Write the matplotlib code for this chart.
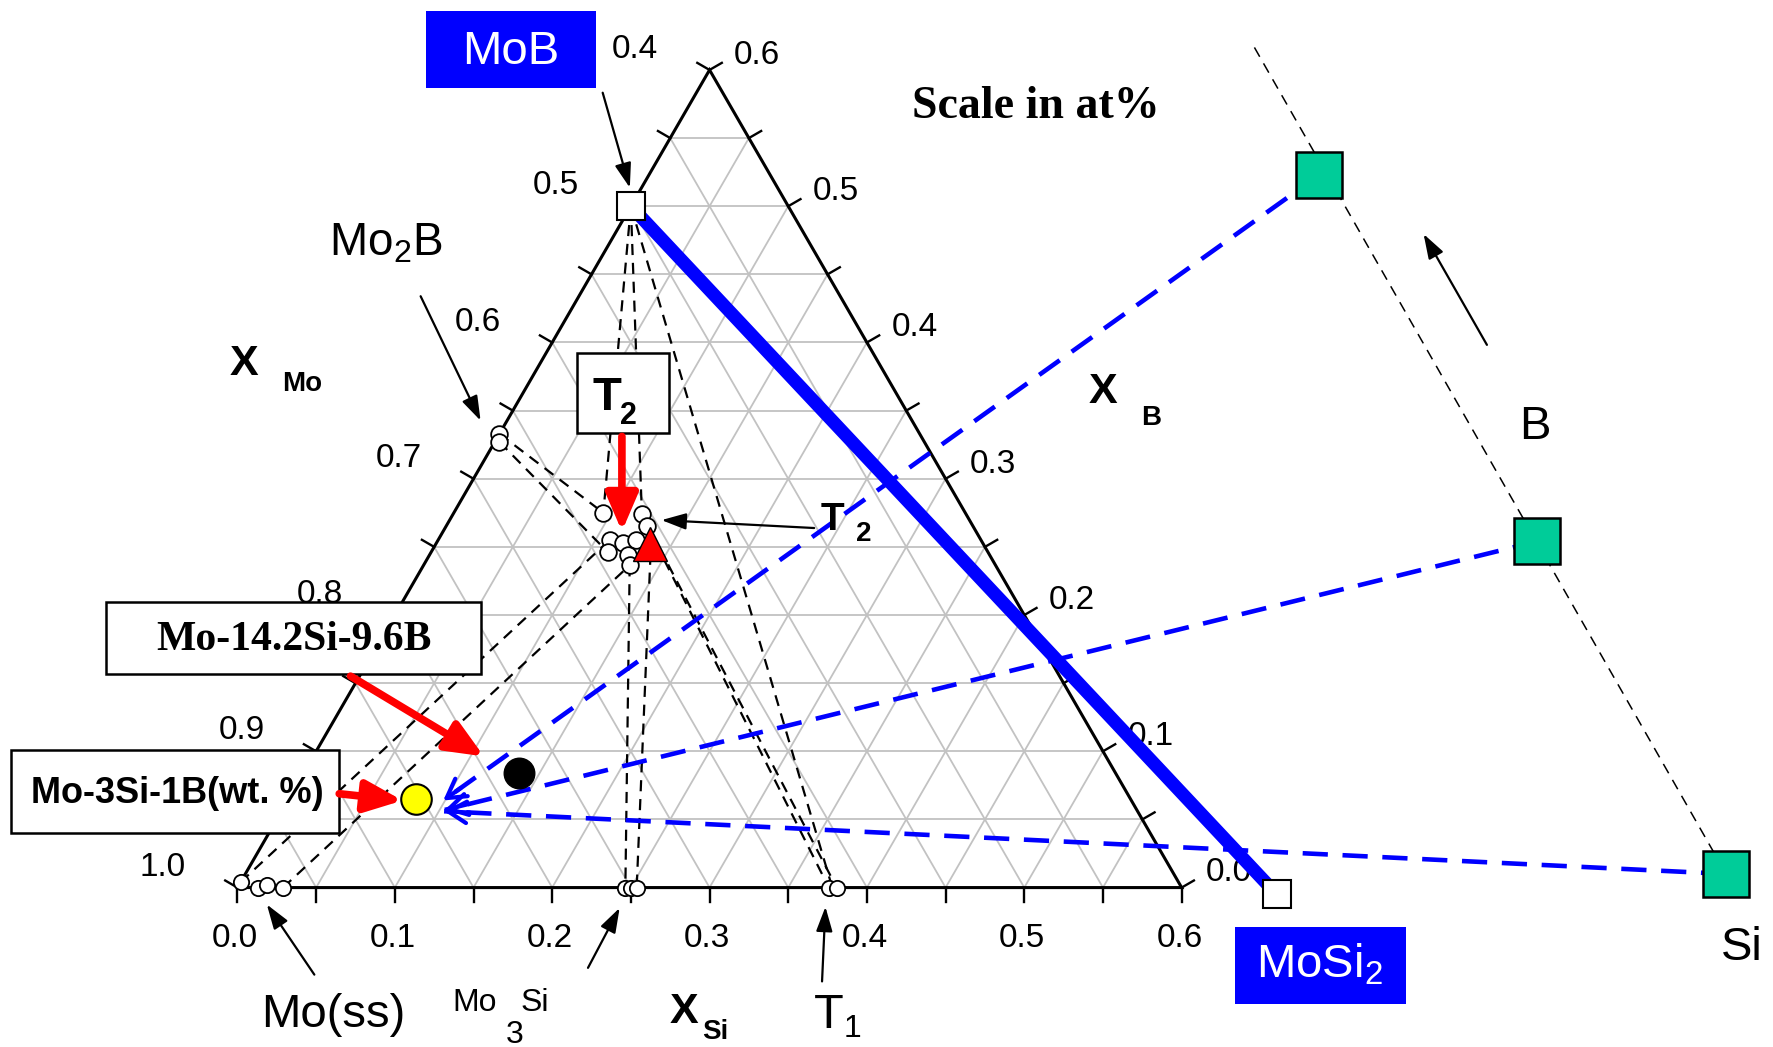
import numpy as np
import matplotlib
matplotlib.use('Agg')
import matplotlib.pyplot as plt
from matplotlib.patches import Rectangle

plt.rcParams['font.family'] = ['Liberation Sans', 'DejaVu Sans']
plt.rcParams['mathtext.fontset'] = 'custom'
plt.rcParams['mathtext.rm'] = 'Liberation Sans'
plt.rcParams['mathtext.bf'] = 'Liberation Sans:bold'
plt.rcParams['mathtext.it'] = 'Liberation Sans:italic'

# ---------------- data (mole fractions X_Si, X_B) ----------------
axis_ticks = [0.0, 0.1, 0.2, 0.3, 0.4, 0.5, 0.6]
si_tick_labels = ['0.0', '0.1', '0.2', '0.3', '0.4', '0.5', '0.6']
mo_tick_labels = ['1.0', '0.9', '0.8', '0.7', '0.6', '0.5', '0.4']
b_tick_labels = ['0.0', '0.1', '0.2', '0.3', '0.4', '0.5', '0.6']

mob_si, mob_b = [0.0], [0.5]
mosi2_si, mosi2_b = [0.663], [-0.005]

mo2b_si = [0.0, 0.003]
mo2b_b = [0.333, 0.327]
t2_si = [0.095, 0.120, 0.109, 0.1185, 0.126, 0.1125, 0.126, 0.131, 0.128]
t2_b = [0.275, 0.274, 0.255, 0.253, 0.255, 0.246, 0.244, 0.2365, 0.265]
moss_si = [0.0, 0.013, 0.018, 0.029]
moss_b = [0.004, 0.0, 0.002, 0.0]
mo3si_si = [0.2465, 0.250, 0.2537]
mo3si_b = [0.0, 0.0, 0.0]
t1_si = [0.3758, 0.3808]
t1_b = [0.0, 0.0]
t2_nominal_si, t2_nominal_b = [0.136], [0.252]

alloy_wt_si, alloy_wt_b = [0.081], [0.065]       # Mo-3Si-1B (wt.%)
alloy_at_si, alloy_at_b = [0.137], [0.084]       # Mo-14.2Si-9.6B

# tie lines: (Xsi1, Xb1) -> (Xsi2, Xb2)
tie_si1 = [0.0, 0.0, 0.0, 0.0, 0.003, 0.0, 0.029, 0.131, 0.140, 0.128, 0.120]
tie_b1 = [0.5, 0.5, 0.5, 0.333, 0.327, 0.004, 0.0, 0.2365, 0.245, 0.265, 0.274]
tie_si2 = [0.095, 0.120, 0.378, 0.095, 0.1125, 0.109, 0.131, 0.2465, 0.2537, 0.3758, 0.3808]
tie_b2 = [0.275, 0.274, 0.0, 0.275, 0.246, 0.255, 0.2365, 0.0, 0.0, 0.0, 0.0]

# composition scale (X_Mo ~ 0.05 line) with three marked points
scale_line_si = [0.338, 0.941]
scale_line_b = [0.6165, 0.010]
scale_pts_si = [0.426, 0.699, 0.941]
scale_pts_b = [0.523, 0.254, 0.010]
# arrow tips of the composition paths
path_tip_si = [0.0988, 0.1033, 0.1033]
path_tip_b = [0.0639, 0.0570, 0.0560]

SQ3 = np.sqrt(3) / 2


def tern(xsi, xb):
    xsi = np.asarray(xsi, float)
    xb = np.asarray(xb, float)
    return xsi + xb / 2, xb * SQ3


# ---------------- figure ----------------
fig = plt.figure(figsize=(17.73, 10.47), dpi=100)
ax = fig.add_axes([0, 0, 1, 1])
S = 1391.7
ax.set_xlim(-210 / S, (1568 - 210) / S)
ax.set_ylim(-(926 - 785) / S, 785 / S)
ax.axis('off')


def F(px, py):
    return (px / 1568, 1 - py / 926)


# grid
grid_kw = dict(color='#c2c2c2', lw=1.3, zorder=1)
for v in np.arange(1, 12) * 0.05:
    ax.plot(*tern([0, 0.6 - v], [v, v]), **grid_kw)
    ax.plot(*tern([v, v], [0, 0.6 - v]), **grid_kw)
    ax.plot(*tern([v, 0], [0, v]), **grid_kw)

# triangle frame
ax.plot(*tern([0, 0.6, 0, 0], [0, 0, 0.6, 0]), color='black', lw=2.2, zorder=2,
        solid_joinstyle='miter')

# ticks
L = 0.009
for t in np.arange(13) * 0.05:
    x, y = tern(t, 0)
    ax.plot([x, x], [y, y - L], color='black', lw=1.7, zorder=2)
    x, y = tern(0, t)
    ax.plot([x, x - L * SQ3], [y, y + L * 0.5], color='black', lw=1.7, zorder=2)
    x, y = tern(0.6 - t, t)
    ax.plot([x, x + L * SQ3], [y, y + L * 0.5], color='black', lw=1.7, zorder=2)

# tick labels
lab_kw = dict(fontsize=24, ha='center', va='center', zorder=2)
for t, lab in zip(axis_ticks, si_tick_labels):
    x, y = tern(t, 0)
    ax.text(x - 2 / S, y - 45 / S, lab, **lab_kw)
for t, lab in zip(axis_ticks, mo_tick_labels):
    x, y = tern(0, t)
    ax.text(x - 66 / S, y + 18 / S, lab, **lab_kw)
for t, lab in zip(axis_ticks, b_tick_labels):
    x, y = tern(0.6 - t, t)
    ax.text(x + 42 / S, y + 13 / S, lab, **lab_kw)

# tie lines
for a, b, c, d in zip(tie_si1, tie_b1, tie_si2, tie_b2):
    ax.plot(*tern([a, c], [b, d]), color='black', lw=1.6, ls=(0, (5, 3.5)), zorder=3)

# composition scale line
ax.plot(*tern(scale_line_si, scale_line_b), color='black', lw=1.1,
        ls=(0, (7, 5)), zorder=3)

# blue dashed paths with arrowheads
for s, b, ts, tb in zip(scale_pts_si, scale_pts_b, path_tip_si, path_tip_b):
    x0, y0 = tern(s, b)
    x1, y1 = tern(ts, tb)
    ax.plot([x0, x1], [y0, y1], color='#0000ff', lw=3.3, ls=(0, (5.5, 3.2)), zorder=3)
    xb_ = x1 + (x0 - x1) * 0.02
    yb_ = y1 + (y0 - y1) * 0.02
    ax.annotate('', xy=(x1, y1), xytext=(xb_, yb_),
                arrowprops=dict(arrowstyle='->,head_length=0.6,head_width=0.35',
                                color='#0000ff', lw=3, shrinkA=0, shrinkB=0,
                                mutation_scale=22), zorder=4)

# thick MoB - MoSi2 line
ax.plot(*tern(mob_si + mosi2_si, mob_b + mosi2_b), color='#0000ff', lw=9.5,
        solid_capstyle='butt', zorder=4)

# markers
circ = dict(ls='none', marker='o', mfc='white', mec='black', mew=1.3, zorder=5)
ax.plot(*tern(mo2b_si, mo2b_b), ms=12, **circ)
ax.plot(*tern(t2_si, t2_b), ms=12, **circ)
ax.plot(*tern(moss_si, moss_b), ms=11, **circ)
ax.plot(*tern(mo3si_si, mo3si_b), ms=11, **circ)
ax.plot(*tern(t1_si, t1_b), ms=11, **circ)
ax.plot(*tern(t2_nominal_si, t2_nominal_b), ls='none', marker='^', ms=24,
        mfc='#ff0000', mec='black', mew=1.0, zorder=6)
ax.plot(*tern(mob_si, mob_b), ls='none', marker='s', ms=20, mfc='white',
        mec='black', mew=1.5, zorder=6)
ax.plot(*tern(mosi2_si, mosi2_b), ls='none', marker='s', ms=20, mfc='white',
        mec='black', mew=1.5, zorder=6)
ax.plot(*tern(scale_pts_si, scale_pts_b), ls='none', marker='s', ms=33,
        mfc='#00cc99', mec='black', mew=1.8, zorder=6)
ax.plot(*tern(alloy_wt_si, alloy_wt_b), ls='none', marker='o', ms=22,
        mfc='#ffff00', mec='black', mew=1.5, zorder=6)
ax.plot(*tern(alloy_at_si, alloy_at_b), ls='none', marker='o', ms=22,
        mfc='black', mec='black', zorder=6)


# ---------------- labels, boxes, arrows ----------------
def box(x0, y0, x1, y1, fc, ec, lw=1.5):
    (fx, fy) = F(x0, y1)
    ax.add_patch(Rectangle((fx, fy), (x1 - x0) / 1568, (y1 - y0) / 926,
                           transform=ax.transAxes, fc=fc, ec=ec, lw=lw, zorder=7))


def txt(px, py, s, **kw):
    kw.setdefault('ha', 'center')
    kw.setdefault('va', 'center')
    kw.setdefault('zorder', 8)
    ax.text(*F(px, py), s, transform=ax.transAxes, **kw)


def arrow(tail, tip, color='black', lw=1.6, style='-|>,head_length=0.6,head_width=0.2', ms=25):
    ax.annotate('', xy=F(*tip), xycoords='axes fraction', xytext=F(*tail),
                textcoords='axes fraction',
                arrowprops=dict(arrowstyle=style, color=color, lw=lw, shrinkA=0,
                                shrinkB=0, mutation_scale=ms), zorder=8)


# MoB / MoSi2 blue boxes
box(377, 10, 527, 78, '#0000ff', '#0000ff', 0)
txt(452, 46, 'MoB', color='white', fontsize=34)
box(1092, 820, 1243, 888, '#0000ff', '#0000ff', 0)
txt(1167, 853, r'MoSi$_2$', color='white', fontsize=34)

# T2 box
box(510, 312, 592, 383, 'white', 'black', 1.8)
txt(537, 352, 'T', fontsize=34, fontweight='bold')
txt(556, 368, '2', fontsize=22, fontweight='bold')

# alloy boxes
box(94, 532, 425, 596, 'white', 'black', 1.8)
txt(260, 566, 'Mo-14.2Si-9.6B', fontsize=30, fontweight='bold',
    family=['Liberation Serif', 'DejaVu Serif'])
box(10, 663, 300, 737, 'white', 'black', 1.8)
txt(157, 702, 'Mo-3Si-1B(wt. %)', fontsize=26, fontweight='bold')

# other labels
txt(916, 95, 'Scale in at%', fontsize=33, fontweight='bold',
    family=['Liberation Serif', 'DejaVu Serif'])
txt(341, 215, r'Mo$_2$B', fontsize=33)
txt(216, 322, 'X', fontsize=31, fontweight='bold')
txt(267, 340, 'Mo', fontsize=20, fontweight='bold')
txt(975, 347, 'X', fontsize=31, fontweight='bold')
txt(1018, 370, 'B', fontsize=20, fontweight='bold')
txt(605, 895, 'X', fontsize=31, fontweight='bold')
txt(633, 913, 'Si', fontsize=20, fontweight='bold')
txt(736, 460, 'T', fontsize=28, fontweight='bold')
txt(764, 472, '2', fontsize=20, fontweight='bold')
txt(1357, 378, 'B', fontsize=34)
txt(1540, 838, 'Si', fontsize=34)
txt(295, 898, 'Mo(ss)', fontsize=34)
txt(420, 887, 'Mo', fontsize=23)
txt(473, 887, 'Si', fontsize=23)
txt(455, 915, '3', fontsize=23)
txt(733, 898, 'T', fontsize=35)
txt(754, 910, '1', fontsize=23)

# black pointer arrows
arrow((533, 82), (557, 166))
arrow((372, 262), (425, 372))
arrow((720, 467), (585, 460))
arrow((278, 862), (236, 800))
arrow((520, 856), (548, 803))
arrow((727, 868), (730, 802))
arrow((1315, 305), (1259, 207))

# red arrows
red_style = '-|>,head_length=0.7,head_width=0.3'
arrow((550, 386), (550, 470), color='#ff0000', lw=5.5, style=red_style, ms=32)
arrow((310, 598), (428, 669), color='#ff0000', lw=5.5, style=red_style, ms=32)
arrow((300, 702), (356, 708), color='#ff0000', lw=5.5, style=red_style, ms=32)

fig.savefig('out.png', dpi=100)
